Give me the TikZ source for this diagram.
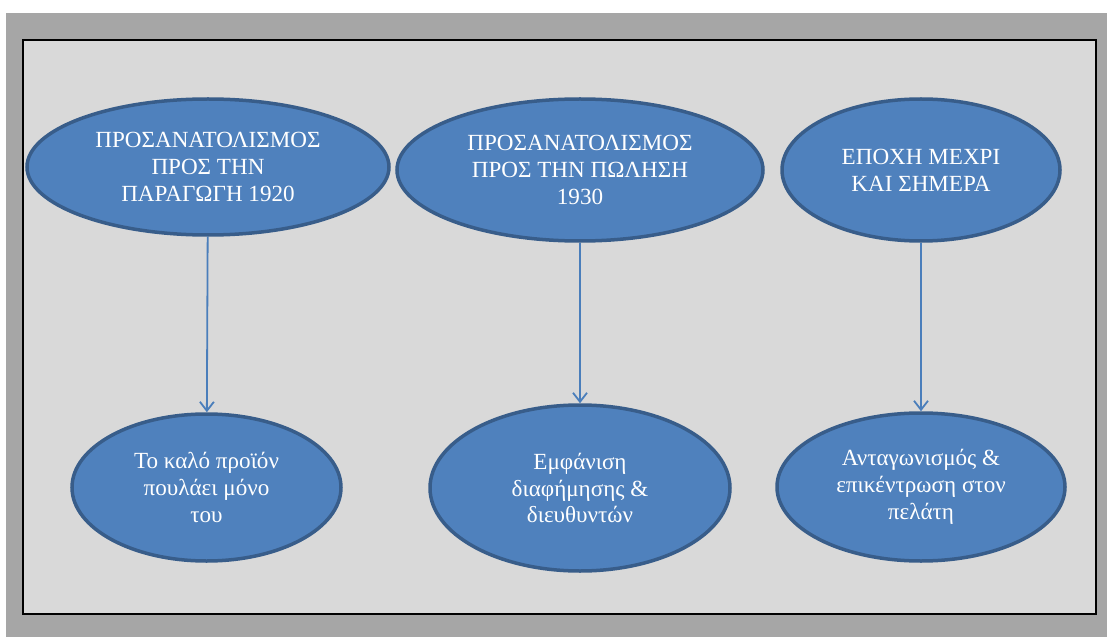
\documentclass[tikz,border=0pt]{standalone}
\usepackage{fontspec}
\setmainfont{Liberation Serif}
\usetikzlibrary{shapes}
\usetikzlibrary{arrows.meta}

\definecolor{outerGray}{HTML}{A6A6A6}
\definecolor{panelGray}{HTML}{D9D9D9}
\definecolor{ellFill}{HTML}{4F81BD}
\definecolor{ellBorder}{HTML}{385D8A}
\definecolor{linkBlue}{HTML}{4A7EBB}

\begin{document}
\begin{tikzpicture}[x=1bp,y=-1bp,every node/.style={ellipse,draw=ellBorder,line width=3.5bp,fill=ellFill,text=white,inner sep=0pt,align=center,font=\fontsize{23.2}{26.8}\selectfont},
				link/.style={draw=linkBlue,line width=1.8bp,-{Straight Barb[length=9bp,width=14bp]}}
				]
				\useasboundingbox (0,0) rectangle (1107,637);
				% frame
				\fill[outerGray] (6,13) rectangle (1107,637);
				\draw[fill=panelGray,line width=2.5bp] (23,40) rectangle (1096,614);
				% top row
				\node[minimum width=362bp,minimum height=136bp] (prod) at (208,167) {ΠΡΟΣΑΝΑΤΟΛΙΣΜΟΣ\\ΠΡΟΣ ΤΗΝ\\ΠΑΡΑΓΩΓΗ 1920};
				\node[minimum width=366bp,minimum height=142bp] (sale) at (580,170) {ΠΡΟΣΑΝΑΤΟΛΙΣΜΟΣ\\ΠΡΟΣ ΤΗΝ ΠΩΛΗΣΗ\\1930};
				\node[minimum width=278bp,minimum height=142bp] (today) at (921,170) {ΕΠΟΧΗ ΜΕΧΡΙ\\ΚΑΙ ΣΗΜΕΡΑ};
				% bottom row
				\node[minimum width=269bp,minimum height=147bp] (product) at (206.5,487.5) {Το καλό προϊόν\\πουλάει μόνο\\του};
				\node[minimum width=300bp,minimum height=166bp] (advert) at (580,488) {Εμφάνιση\\διαφήμησης \&\\διευθυντών};
				\node[minimum width=288bp,minimum height=148bp] (client) at (921,487) {Ανταγωνισμός \&\\επικέντρωση στον\\πελάτη};
				\draw[link] (prod) -- (product);
				\draw[link] (sale) -- (advert);
				\draw[link] (today) -- (client);
\end{tikzpicture}
\end{document}
